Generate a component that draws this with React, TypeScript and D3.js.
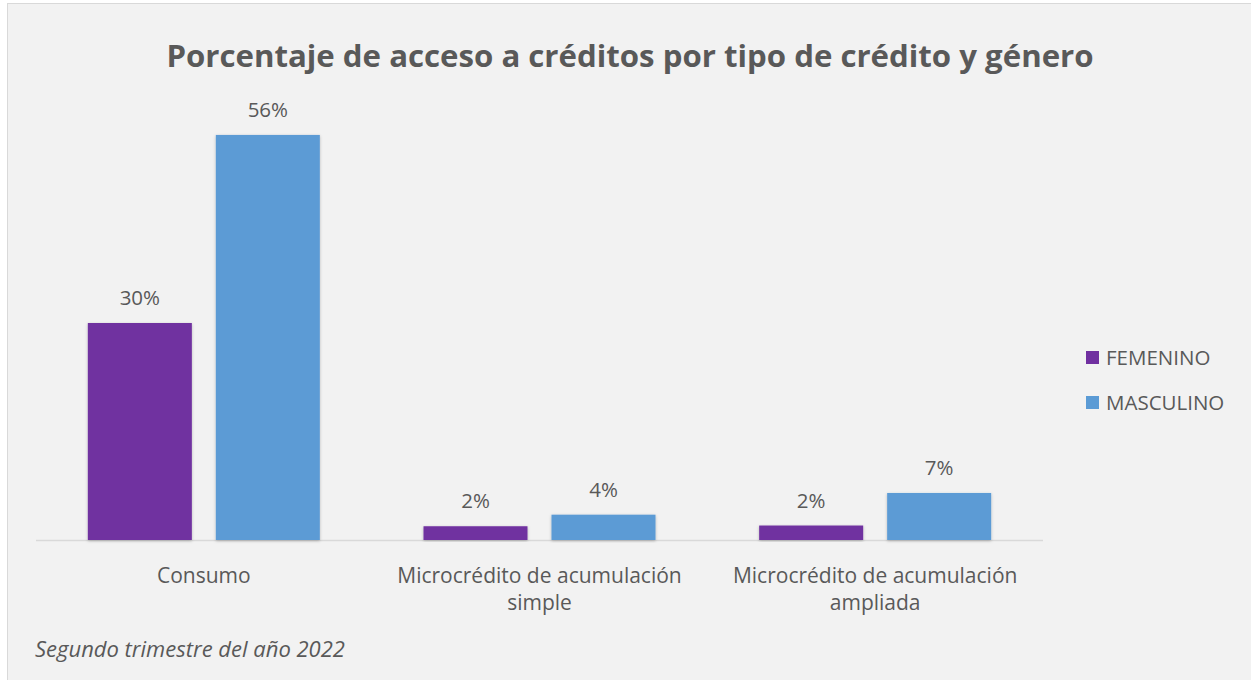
import React from "react";
import * as d3 from "d3";

const categories: string[][] = [
  ["Consumo"],
  ["Microcrédito de acumulación", "simple"],
  ["Microcrédito de acumulación", "ampliada"],
];
const seriesNames = ["FEMENINO", "MASCULINO"];
const femenino = [30, 1.9, 2.0];
const masculino = [56, 3.5, 6.5];
const seriesColors = ["#7030A0", "#5B9BD5"];
const title = "Porcentaje de acceso a créditos por tipo de crédito y género";
const subtitle = "Segundo trimestre del año 2022";

const W = 1251;
const H = 680;
const plot = { left: 36, right: 1043, top: 106, bottom: 540 };
const textColor = "#595959";
const font = "'Open Sans', sans-serif";
const fs = 20.5;

export default function App() {
  const x0 = d3
    .scaleBand<number>()
    .domain(categories.map((_, i) => i))
    .range([plot.left, plot.right])
    .padding(0);
  const x1 = d3
    .scaleBand<number>()
    .domain([0, 1])
    .range([0, x0.bandwidth()])
    .paddingInner(0.1875)
    .paddingOuter(0.405);
  const y = d3.scaleLinear().domain([0, 60]).range([plot.bottom, plot.top]);
  const series = [femenino, masculino];

  return (
    <svg
      width={W}
      height={H}
      style={{ position: "absolute", left: 0, top: 0, display: "block" }}
      fontFamily={font}
    >
      <defs>
        <filter id="sh" x="-10%" y="-10%" width="120%" height="120%">
          <feDropShadow dx="0" dy="1" stdDeviation="1.5" floodColor="#000" floodOpacity="0.25" />
        </filter>
      </defs>
      <rect x={0} y={0} width={W} height={H} fill="#ffffff" />
      <rect x={7.5} y={3.5} width={W + 20} height={H + 20} fill="#F2F2F2" stroke="#D9D9D9" strokeWidth={1} />
      <text
        x={630}
        y={67}
        textAnchor="middle"
        fontSize={31.2}
        fontWeight="bold"
        fill={textColor}
      >
        {title}
      </text>
      <line x1={plot.left} x2={plot.right} y1={plot.bottom + 0.5} y2={plot.bottom + 0.5} stroke="#D9D9D9" strokeWidth={1.5} />
      {series.map((vals, s) =>
        vals.map((v, i) => {
          const bx = (x0(i) as number) + (x1(s) as number);
          const by = y(v);
          return (
            <g key={`${s}-${i}`}>
              <rect
                x={bx}
                y={by}
                width={x1.bandwidth()}
                height={plot.bottom - by}
                fill={seriesColors[s]}
                filter="url(#sh)"
              />
              <text
                x={bx + x1.bandwidth() / 2}
                y={by - 18}
                textAnchor="middle"
                fontSize={fs}
                fill={textColor}
              >
                {Math.round(v) + "%"}
              </text>
            </g>
          );
        })
      )}
      {categories.map((lines, i) => (
        <text
          key={i}
          x={(x0(i) as number) + x0.bandwidth() / 2}
          y={583}
          textAnchor="middle"
          fontSize={21}
          fill={textColor}
        >
          {lines.map((l, j) => (
            <tspan key={j} x={(x0(i) as number) + x0.bandwidth() / 2} dy={j === 0 ? 0 : 27}>
              {l}
            </tspan>
          ))}
        </text>
      ))}
      {seriesNames.map((n, s) => (
        <g key={n} transform={`translate(1086, ${351 + s * 45})`}>
          <rect x={0} y={0} width={13} height={13} fill={seriesColors[s]} />
          <text x={20} y={13.5} fontSize={fs} fill={textColor}>
            {n}
          </text>
        </g>
      ))}
      <text x={35} y={657} fontSize={22} fontStyle="italic" fill={textColor}>
        {subtitle}
      </text>
    </svg>
  );
}
